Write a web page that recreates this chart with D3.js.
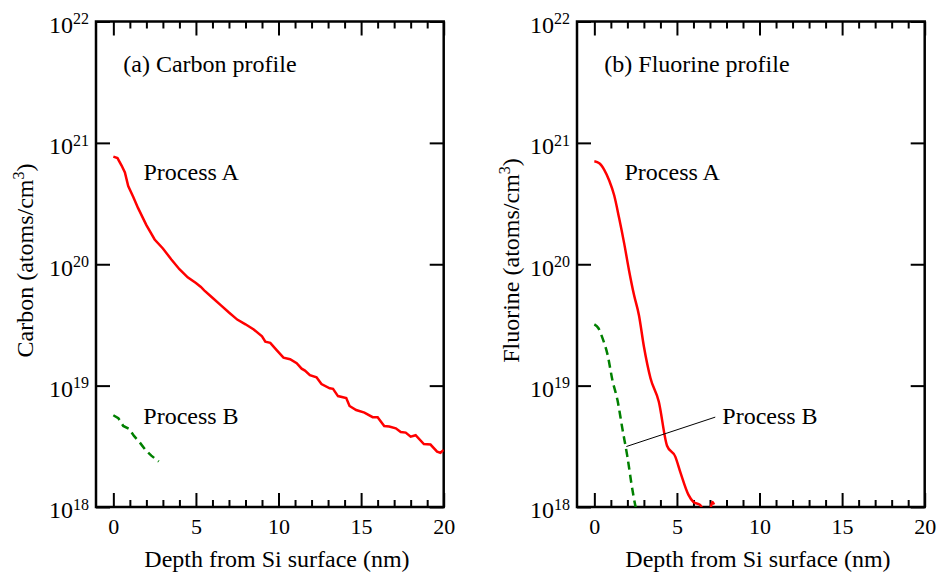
<!DOCTYPE html>
<html>
<head>
<meta charset="utf-8">
<script src="https://cdn.jsdelivr.net/npm/d3@7"></script>
<style>
  body { margin: 0; background: #fff; }
</style>
</head>
<body>
<div id="chart"></div>
<script>
const SERIF = "'Liberation Serif', 'Times New Roman', Times, serif";

// depth (nm) and concentration (atoms/cm^3)
const carbonADepth = [0, 0.25, 0.5, 0.7, 0.9, 1.2, 1.5, 2, 2.5, 3, 3.5, 4, 4.5, 5, 5.3, 5.5, 6, 6.5, 7, 7.5,
  8, 8.5, 9, 9.2, 9.5, 9.9, 10.3, 10.7, 11.1, 11.4, 11.6, 11.9, 12.3, 12.6, 13.1, 13.3, 13.6, 14.1, 14.3, 14.7,
  15.2, 15.7, 16, 16.4, 16.7, 17.1, 17.4, 17.7, 18, 18.3, 18.8, 19.2, 19.6, 19.8, 20];
const carbonA = [7.7e20, 7.5e20, 6.5e20, 5.7e20, 4.4e20, 3.6e20, 2.9e20, 2.1e20, 1.6e20, 1.35e20,
  1.1e20, 9.1e19, 7.8e19, 7.0e19, 6.5e19, 6.1e19, 5.3e19, 4.6e19, 4.0e19, 3.5e19,
  3.2e19, 2.9e19, 2.55e19, 2.3e19, 2.25e19, 1.95e19, 1.7e19, 1.65e19, 1.53e19, 1.38e19,
  1.33e19, 1.22e19, 1.17e19, 1.03e19, 9.5e18, 9.4e18, 8.2e18, 7.9e18, 6.8e18, 6.3e18,
  6.0e18, 5.5e18, 5.5e18, 4.65e18, 4.6e18, 4.45e18, 4.15e18, 4.1e18, 3.8e18, 3.9e18,
  3.3e18, 3.27e18, 2.86e18, 2.8e18, 2.95e18];

const carbonBDepth = [0, 0.3, 0.6, 0.95, 1.25, 1.6, 1.95, 2.3, 2.75];
const carbonB = [5.7e18, 5.4e18, 4.65e18, 4.4e18, 3.85e18, 3.4e18, 2.95e18, 2.65e18, 2.37e18];

const fluorineADepth = [0, 0.3, 0.6, 0.9, 1.2, 1.5, 1.8, 2.1, 2.4, 2.7, 3.0, 3.4, 3.9, 4.4, 4.9, 5.2,
  5.7, 6.0, 6.4, 6.7, 7.0, 7.15, 7.25];
const fluorineA = [7.05e20, 6.8e20, 6.0e20, 4.9e20, 3.7e20, 2.4e20, 1.5e20, 8.9e19, 5.6e19, 3.8e19,
  2.1e19, 1.15e19, 7.4e18, 3.2e18, 2.6e18, 1.95e18, 1.26e18, 1.1e18, 1.04e18, 9.0e17, 9.5e17, 1.1e18, 1.05e18];

const fluorineBDepth = [0, 0.25, 0.5, 0.8, 1.1, 1.4, 1.7, 2.0, 2.3, 2.5, 2.6];
const fluorineB = [3.2e19, 2.97e19, 2.45e19, 1.8e19, 1.1e19, 7.6e18, 4.4e18, 2.6e18, 1.4e18, 1.0e18, 9e17];

const xMajorTicks = [0, 5, 10, 15, 20];
const xMinorTicks = d3.range(0, 21).filter(d => d % 5 !== 0);
const yTicks = [1e18, 1e19, 1e20, 1e21, 1e22];

const W = 938, H = 572;
const PW = 347.7, PH = 485.5;   // plot frame size
const TOP = 21.5;

const svg = d3.select("#chart").append("svg")
  .attr("width", W).attr("height", H);

const panels = [
  { left: 96, tag: "(a) Carbon profile", ylab: "Carbon (atoms/cm", yLabX: -63,
    a: [carbonADepth, carbonA], b: [carbonBDepth, carbonB], bLabX: 47.3, leader: null },
  { left: 577, tag: "(b) Fluorine profile", ylab: "Fluorine (atoms/cm", yLabX: -58,
    a: [fluorineADepth, fluorineA], b: [fluorineBDepth, fluorineB], bLabX: 145.3,
    leader: [[1.94, 3.15e18], [7.32, 5.5e18]] }
];

panels.forEach((p, i) => drawPanel(p, i));

function drawPanel(p, i) {
  let g = svg.append("g").attr("transform", `translate(${p.left},${TOP})`);

  let x = d3.scaleLinear().domain([-1.05, 20]).range([0, PW]);
  let y = d3.scaleLog().domain([1e18, 1e22]).range([PH, 0]);

  g.append("clipPath").attr("id", "clip" + i)
    .append("rect").attr("width", PW).attr("height", PH);

  // ticks, all pointing inward
  let tickStyle = sel => {
    sel.select(".domain").remove();
    sel.selectAll(".tick line").attr("stroke", "#000").attr("stroke-width", 2);
  };

  g.append("g").attr("transform", `translate(0,${PH})`)
    .call(d3.axisBottom(x).tickValues(xMinorTicks).tickSize(-7).tickFormat(""))
    .call(tickStyle);
  g.append("g")
    .call(d3.axisTop(x).tickValues(xMinorTicks).tickSize(-7).tickFormat(""))
    .call(tickStyle);
  g.append("g")
    .call(d3.axisTop(x).tickValues(xMajorTicks).tickSize(-14).tickFormat(""))
    .call(tickStyle);
  g.append("g").attr("transform", `translate(0,${PH})`)
    .call(d3.axisBottom(x).tickValues(xMajorTicks).tickSize(-14).tickPadding(11).tickFormat(d3.format("d")))
    .call(tickStyle)
    .call(s => s.selectAll(".tick text")
      .style("font-family", SERIF).attr("font-size", 22).attr("fill", "#000"));

  g.append("g").attr("transform", `translate(${PW},0)`)
    .call(d3.axisRight(y).tickValues(yTicks).tickSize(-14).tickFormat(""))
    .call(tickStyle);
  let yAx = g.append("g")
    .call(d3.axisLeft(y).tickValues(yTicks).tickSize(-14).tickPadding(7).tickFormat(""))
    .call(tickStyle);
  yAx.selectAll(".tick text").each(function(d) {
    let t = d3.select(this)
      .style("font-family", SERIF).attr("font-size", 24).attr("fill", "#000")
      .attr("dy", "0.45em");
    t.append("tspan").text("10");
    t.append("tspan").attr("font-size", 16).attr("dy", -8.5).text(Math.round(Math.log10(d)));
  });

  // frame
  g.append("rect").attr("width", PW).attr("height", PH)
    .attr("fill", "none").attr("stroke", "#000").attr("stroke-width", 2.5);

  let line = d3.line()
    .x(d => x(d[0]))
    .y(d => y(d[1]));

  let plot = g.append("g").attr("clip-path", `url(#clip${i})`);

  plot.append("path")
    .datum(d3.zip(p.a[0], p.a[1]))
    .attr("d", line.curve(i === 1 ? d3.curveMonotoneX : d3.curveLinear))
    .attr("fill", "none").attr("stroke", "#ff0000").attr("stroke-width", 2.5);

  plot.append("path")
    .datum(d3.zip(p.b[0], p.b[1]))
    .attr("d", line.curve(i === 1 ? d3.curveMonotoneX : d3.curveLinear))
    .attr("fill", "none").attr("stroke", "#008000").attr("stroke-width", 2.5)
    .attr("stroke-dasharray", "8,5");

  if (p.leader) {
    g.append("path")
      .datum(p.leader)
      .attr("d", d3.line().x(d => x(d[0])).y(d => y(d[1])))
      .attr("stroke", "#000").attr("stroke-width", 1).attr("fill", "none");
  }

  // labels
  let label = (xp, yp, s) => g.append("text")
    .attr("x", xp).attr("y", yp)
    .style("font-family", SERIF).attr("font-size", 24).attr("fill", "#000")
    .text(s);
  label(27.3, 50.2, p.tag);
  label(47.5, 158.5, "Process A");
  label(p.bLabX, 402.5, "Process B");

  label(181, 545, "Depth from Si surface (nm)").attr("text-anchor", "middle");

  let yl = g.append("text")
    .attr("transform", `translate(${p.yLabX},${239}) rotate(-90)`)
    .style("font-family", SERIF)
    .attr("text-anchor", "middle").attr("font-size", 24).attr("fill", "#000");
  yl.append("tspan").text(p.ylab);
  yl.append("tspan").attr("font-size", 16).attr("dy", -9).text("3");
  yl.append("tspan").attr("dy", 9).text(")");
}
</script>
</body>
</html>
